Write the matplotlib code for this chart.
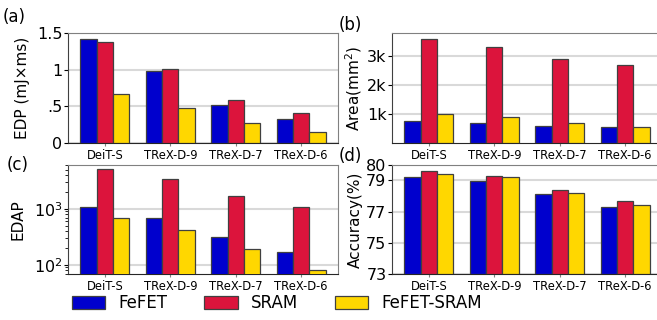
import matplotlib
matplotlib.use('Agg')
import matplotlib.pyplot as plt
import numpy as np
from matplotlib.patches import Patch

models = ['DeiT-S', 'TReX-D-9', 'TReX-D-7', 'TReX-D-6']
series = ['FeFET', 'SRAM', 'FeFET-SRAM']
colors = ['#0000CD', '#DC143C', '#FFD700']

edp_fefet = [1.418, 0.986, 0.514, 0.327]
edp_sram = [1.382, 1.005, 0.586, 0.409]
edp_hyb = [0.664, 0.477, 0.273, 0.145]

area_fefet = [770, 690, 586, 550]
area_sram = [3575, 3290, 2870, 2670]
area_hyb = [1010, 885, 700, 563]

edap_fefet = [1100, 700, 308, 173]
edap_sram = [5100, 3390, 1683, 1100]
edap_hyb = [681, 422, 191, 82.6]

acc_fefet = [79.19, 78.99, 78.12, 77.28]
acc_sram = [79.59, 79.31, 78.37, 77.69]
acc_hyb = [79.40, 79.21, 78.20, 77.39]

fig = plt.figure(figsize=(6.57, 3.2), dpi=100)
W = 270 / 657
axa = fig.add_axes([68 / 657, 0.553, W, 0.344])
axb = fig.add_axes([392 / 657, 0.553, W, 0.344])
axc = fig.add_axes([68 / 657, 0.144, W, 0.341])
axd = fig.add_axes([392 / 657, 0.144, W, 0.341])

x = np.arange(len(models))
w = 0.25

def draw(ax, data, bottom=0):
    for i, (vals, c) in enumerate(zip(data, colors)):
        ax.bar(x + (i - 1) * w, np.array(vals) - bottom, w, bottom=bottom, color=c,
               edgecolor='0.25', linewidth=0.9, zorder=3)
    ax.set_xlim(-0.565, 3.565)
    ax.set_xticks(x)
    ax.set_xticklabels(models, fontsize=8.3)
    ax.tick_params(axis='x', length=2.5, pad=2, color='0.5')
    ax.tick_params(axis='y', labelsize=11.5, length=3, pad=1)
    ax.grid(axis='y', color='0.85', linewidth=1.5, zorder=0)
    ax.spines['top'].set_color('0.5')
    ax.spines['right'].set_color('0.5')
    ax.spines['left'].set_color('0.25')
    ax.spines['bottom'].set_color('0.15')

draw(axa, [edp_fefet, edp_sram, edp_hyb])
axa.set_ylim(0, 1.5)
axa.set_yticks([0, 0.5, 1, 1.5])
axa.set_yticklabels(['0', '.5', '1', '1.5'])
axa.set_ylabel('EDP (mJ×ms)', fontsize=11, labelpad=5)

draw(axb, [area_fefet, area_sram, area_hyb])
axb.set_ylim(0, 3780)
axb.set_yticks([1000, 2000, 3000])
axb.set_yticklabels(['1k', '2k', '3k'])
axb.set_ylabel('Area(mm$^2$)', fontsize=11, labelpad=2)

draw(axc, [edap_fefet, edap_sram, edap_hyb], bottom=1)
axc.set_yscale('log')
axc.set_ylim(69, 6100)
axc.set_ylabel('EDAP', fontsize=11, labelpad=6)

draw(axd, [acc_fefet, acc_sram, acc_hyb], bottom=73)
axd.set_ylim(73, 80)
axd.set_yticks([73, 75, 77, 79, 80])
axd.set_ylabel('Accuracy(%)', fontsize=11, labelpad=2)

fig.text(3 / 657, 1 - 17 / 320, '(a)', fontsize=12, va='center')
fig.text(339 / 657, 1 - 25 / 320, '(b)', fontsize=12, va='center')
fig.text(7 / 657, 1 - 165 / 320, '(c)', fontsize=12, va='center')
fig.text(339 / 657, 1 - 156 / 320, '(d)', fontsize=12, va='center')

handles = [Patch(facecolor=c, edgecolor='0.25', linewidth=0.9) for c in colors]
fig.legend(handles, series, loc='center', bbox_to_anchor=(277 / 657, 1 - 303 / 320),
           ncol=3, frameon=False, fontsize=12, handlelength=2.0, handleheight=0.8,
           columnspacing=2.2, handletextpad=0.8)

fig.savefig('out.png', dpi=100)
